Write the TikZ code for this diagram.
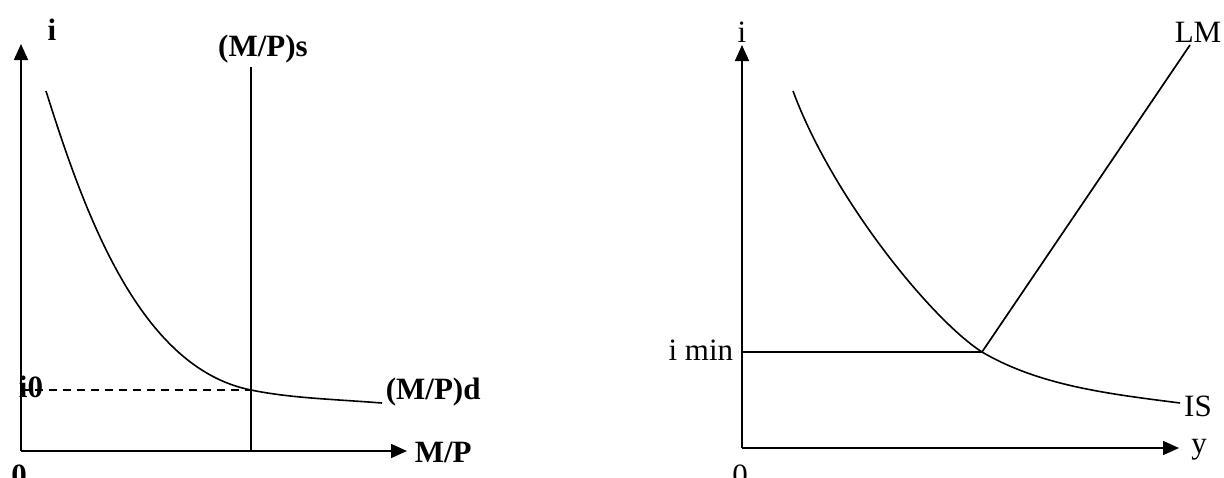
\documentclass[tikz,border=0pt]{standalone}
\usepackage{fontspec}
\setmainfont{Liberation Serif}
\usetikzlibrary{arrows.meta}
\begin{document}
\begin{tikzpicture}[x=1pt,y=-1pt,
  line width=1.7pt,
  axis/.style={-{Triangle[length=16pt,width=14pt]}},
  curve/.style={line width=1.6pt},
  lbl/.style={inner sep=0pt,font=\fontsize{31}{35}\selectfont},
  blbl/.style={inner sep=0pt,font=\fontsize{31}{35}\selectfont\bfseries}]
\useasboundingbox (0,0) rectangle (1224,477);
% ---------- left panel ----------
\coordinate (O1) at (21,451);
\coordinate (Y1) at (21,44);
\coordinate (X1) at (407,451);
\coordinate (S1top) at (251,67);
\coordinate (S1bot) at (251,451);
\coordinate (E1) at (251,390);
\coordinate (I0) at (21,390);
\coordinate (D1a) at (46,91);
\coordinate (D1b) at (382,403);
\draw[axis] (O1) -- (Y1);
\draw[axis] (O1) -- (X1);
\draw (S1top) -- (S1bot);
\draw[dashed,dash pattern=on 8pt off 6pt,line width=1.3pt] (I0) -- (E1);
\draw[curve] (D1a) .. controls (85,215) and (140,368) .. (E1)
  .. controls (290,398) and (330,399) .. (D1b);
\node[blbl] (li) at (52,30) {i};
\node[blbl] (ls) at (263,49) {(M/P)s};
\node[blbl] (li0) at (31,387) {i0};
\node[blbl,anchor=west] (ld) at (385,392) {(M/P)d};
\node[blbl,anchor=west] (lx) at (414,452) {M/P};
\node[blbl] (l0) at (19,475) {0};
% ---------- right panel ----------
\coordinate (O2) at (742,448);
\coordinate (Y2) at (742,45);
\coordinate (X2) at (1179,448);
\coordinate (E2) at (982,352);
\coordinate (M2) at (742,352);
\coordinate (LMtop) at (1190,45);
\coordinate (IS1) at (793,91);
\coordinate (IS2) at (1180,403);
\draw[axis] (O2) -- (Y2);
\draw[axis] (O2) -- (X2);
\draw (M2) -- (E2);
\draw (E2) -- (LMtop);
\draw[curve] (IS1) .. controls (833,199) and (932,320) .. (E2)
  .. controls (1040,386) and (1110,394) .. (IS2);
\node[lbl] (ri) at (742,32) {i};
\node[lbl] (rlm) at (1198,32) {LM};
\node[lbl,anchor=east] (rmin) at (734,350) {i min};
\node[lbl] (ris) at (1198,406) {IS};
\node[lbl] (ry) at (1199,450) {y};
\node[lbl] (r0) at (740,475) {0};
\end{tikzpicture}
\end{document}
